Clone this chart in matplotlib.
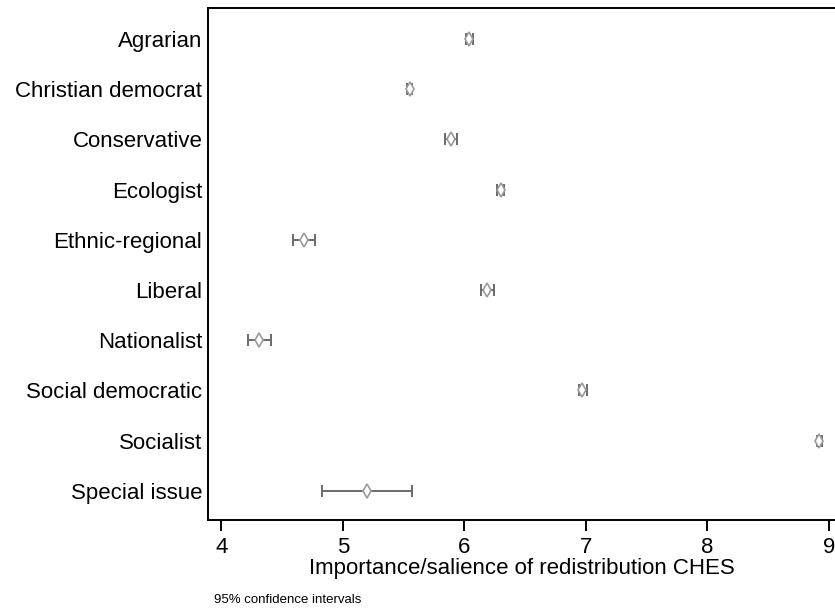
import matplotlib.pyplot as plt

plt.rcParams['font.family'] = ['Liberation Sans', 'DejaVu Sans']

families = ["Agrarian", "Christian democrat", "Conservative", "Ecologist",
            "Ethnic-regional", "Liberal", "Nationalist", "Social democratic",
            "Socialist", "Special issue"]
means = [6.04, 5.55, 5.89, 6.30, 4.68, 6.19, 4.31, 6.97, 8.92, 5.20]
ci_low = [6.01, 5.53, 5.84, 6.27, 4.59, 6.14, 4.22, 6.94, 8.90, 4.83]
ci_high = [6.07, 5.57, 5.94, 6.33, 4.77, 6.24, 4.41, 7.01, 8.94, 5.57]

rows = list(range(1, len(families) + 1))
err = [[m - lo for m, lo in zip(means, ci_low)],
       [hi - m for m, hi in zip(means, ci_high)]]

fig = plt.figure(figsize=(8.35, 6.11), dpi=100)
ax = fig.add_axes([0.249, 0.149, 0.751, 0.838])

ax.errorbar(means, rows, xerr=err, fmt='none', ecolor='#6a6a6a',
            elinewidth=1.4, capsize=4.5, capthick=1.4, zorder=2)
ax.plot(means, rows, 'd', markersize=7.5, markerfacecolor='white',
        markeredgecolor='#9a9a9a', markeredgewidth=1.2, zorder=3)

ax.set_xlim(3.89, 9.05)
ax.set_ylim(10.58, 0.38)
ax.set_yticks(rows)
ax.set_yticklabels(families, fontsize=16)
ax.tick_params(axis='y', length=0, pad=4)
ax.set_xticks([4, 5, 6, 7, 8, 9])
ax.tick_params(axis='x', labelsize=16, length=8, width=1.4, direction='out', pad=4)
ax.set_xlabel("Importance/salience of redistribution CHES", fontsize=16, labelpad=0)
ax.spines['right'].set_visible(False)
for s in ['left', 'top', 'bottom']:
    ax.spines[s].set_linewidth(1.4)

fig.text(0.256, 0.013, "95% confidence intervals", fontsize=9.5)

fig.savefig("out.png", dpi=100)
